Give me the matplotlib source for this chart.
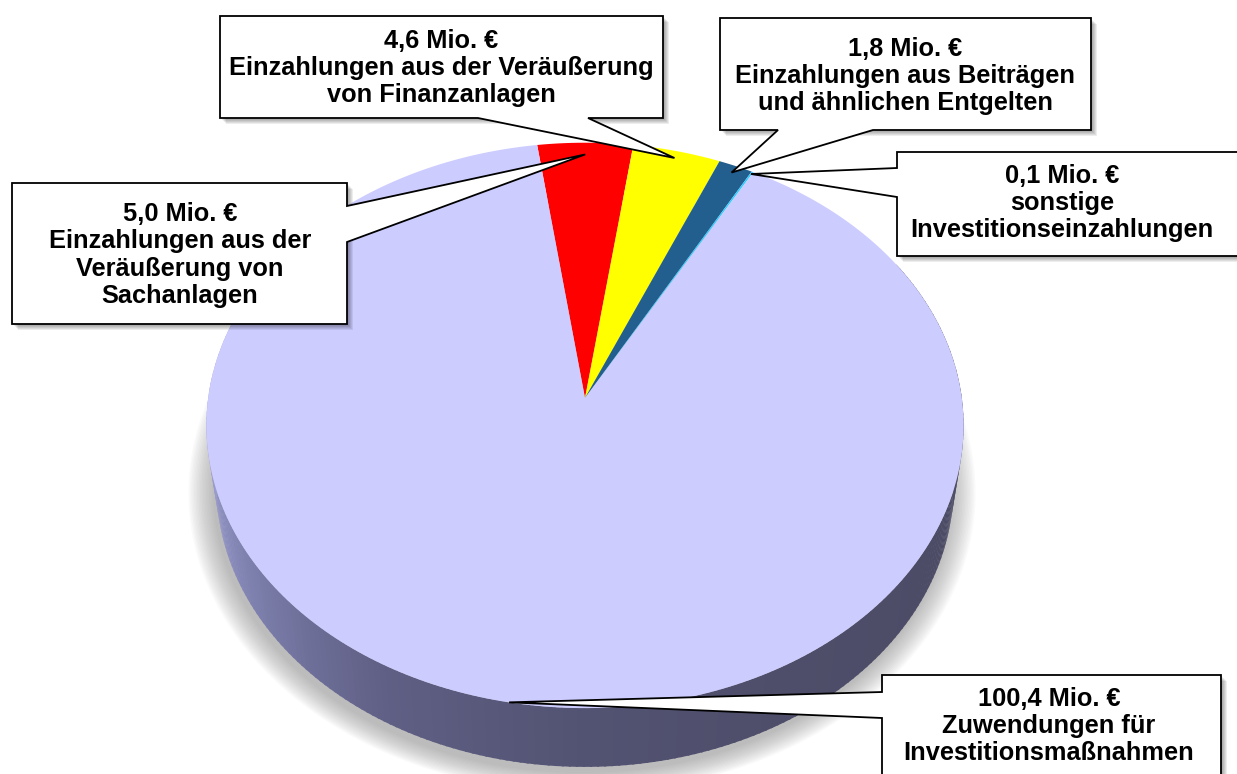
import numpy as np
import matplotlib
matplotlib.use("Agg")
import matplotlib.pyplot as plt
from matplotlib.patches import Polygon

# ---- data ----
labels = [
    "Einzahlungen aus der\nVeräußerung von\nSachanlagen",
    "Einzahlungen aus der Veräußerung\nvon Finanzanlagen",
    "Einzahlungen aus Beiträgen\nund ähnlichen Entgelten",
    "sonstige\nInvestitionseinzahlungen",
    "Zuwendungen für\nInvestitionsmaßnahmen",
]
values = [5.0, 4.6, 1.8, 0.1, 100.4]
value_text = ["5,0 Mio. €", "4,6 Mio. €", "1,8 Mio. €", "0,1 Mio. €", "100,4 Mio. €"]
colors = ["#FF0000", "#FFFF00", "#225E8E", "#33CCFF", "#CCCCFF"]

# ---- figure ----
W, H = 1237, 774
fig = plt.figure(figsize=(W / 100, H / 100), dpi=100)
ax = fig.add_axes([0, 0, 1, 1])
ax.set_xlim(0, W)
ax.set_ylim(H, 0)
ax.axis("off")

# ---- 3D projection of the pie ----
cx, cy = 585.0, 398.0
phi = np.radians(48)
s_, c_ = np.sin(phi), np.cos(phi)
D = 6.9
f = 2600.0
h = 0.25
start = -8.0  # degrees, clockwise from the far point


def proj(theta_deg, r=1.0, Z=0.0):
    t = np.radians(theta_deg)
    X = r * np.sin(t)
    Y = -r * np.cos(t)
    depth = D - (Y * c_ + Z * s_)
    sx = cx + f * X / depth
    up = f * (-Y * s_ + Z * c_) / depth
    return sx, cy - up


total = sum(values)
angles = [v / total * 360.0 for v in values]
bounds = [start]
for a in angles:
    bounds.append(bounds[-1] + a)

# shadow under the pie
th = np.linspace(0, 360, 361)
bx, by = proj(th, 1.0, -h)
bx = np.asarray(bx)
by = np.asarray(by)
mx, my = bx.mean(), by.mean()
for k in range(18):
    sc = 1.0 + 0.004 * k
    ax.add_patch(Polygon(np.column_stack([mx - 3 + (bx - mx) * sc, my + 6 + (by - my) * sc]),
                         closed=True, facecolor="#8a8a8a", edgecolor="none",
                         alpha=0.04, zorder=1))

# side of the pie
side_stops = [(90, (74, 74, 100)), (150, (78, 78, 106)), (180, (82, 82, 114)),
              (210, (96, 96, 134)), (240, (128, 130, 176)), (270, (165, 168, 222))]


def side_color(t):
    t = t % 360
    if t <= side_stops[0][0]:
        return np.array(side_stops[0][1]) / 255
    if t >= side_stops[-1][0]:
        return np.array(side_stops[-1][1]) / 255
    for (t0, c0), (t1, c1) in zip(side_stops[:-1], side_stops[1:]):
        if t0 <= t <= t1:
            w = (t - t0) / (t1 - t0)
            return (np.array(c0) * (1 - w) + np.array(c1) * w) / 255
    return np.array(side_stops[-1][1]) / 255


step = 1.0
for t in np.arange(60, 300, step):
    x0, y0 = proj(t, 1, 0)
    x1, y1 = proj(t + step + 0.3, 1, 0)
    x2, y2 = proj(t + step + 0.3, 1, -h)
    x3, y3 = proj(t, 1, -h)
    ax.add_patch(Polygon([(x0, y0), (x1, y1), (x2, y2), (x3, y3)], closed=True,
                         facecolor=side_color(t + step / 2), edgecolor="none", zorder=2))

# top surface slices
for i in range(len(values)):
    ts = np.linspace(bounds[i], bounds[i + 1], max(3, int(angles[i] * 2)))
    px, py = proj(ts, 1.0, 0.0)
    pts = [(cx, cy)] + list(zip(px, py))
    ax.add_patch(Polygon(pts, closed=True, facecolor=colors[i], edgecolor="none", zorder=3))

# ---- callout boxes ----
boxes = [
    dict(rect=(12, 183, 347, 324), base=[(347, 206), (347, 242)], side="right", tc=(180, 255), r=0.95),
    dict(rect=(220, 16, 663, 118), base=[(478, 118), (588, 118)], side="bottom", tc=(441, 68), r=0.97),
    dict(rect=(720, 18, 1091, 130), base=[(778, 130), (873, 130)], side="bottom", tc=(905, 76), r=0.97),
    dict(rect=(897, 152, 1250, 256), base=[(897, 168), (897, 197)], side="left", tc=(1062, 203), r=0.99),
    dict(rect=(882, 675, 1221, 790), base=[(882, 692), (882, 718)], side="left", tc=(1049, 726), r=1.0),
]

for i, b in enumerate(boxes):
    mid = (bounds[i] + bounds[i + 1]) / 2
    tx, ty = proj(mid, b["r"], 0.0)
    x0, y0, x1, y1 = b["rect"]
    (ax_, ay_), (bx_, by_) = b["base"]
    if b["side"] == "right":
        pts = [(x0, y0), (x1, y0), (ax_, ay_), (tx, ty), (bx_, by_), (x1, y1), (x0, y1)]
    elif b["side"] == "bottom":
        pts = [(x0, y0), (x1, y0), (x1, y1), (bx_, by_), (tx, ty), (ax_, ay_), (x0, y1)]
    else:
        pts = [(x0, y0), (x1, y0), (x1, y1), (x0, y1), (bx_, by_), (tx, ty), (ax_, ay_)]
    for k in range(5):
        off = 2 + k
        ax.add_patch(Polygon([(x0 + off, y0 + off), (x1 + off, y0 + off), (x1 + off, y1 + off),
                              (x0 + off, y1 + off)], closed=True, facecolor="#000000",
                             edgecolor="none", alpha=0.07, zorder=4))
    ax.add_patch(Polygon(pts, closed=True, facecolor="white", edgecolor="black",
                         linewidth=1.3, zorder=5, joinstyle="miter"))
    ax.text(b["tc"][0], b["tc"][1], value_text[i] + "\n" + labels[i], ha="center", va="center",
            fontsize=18.3, fontweight="bold", family=["Liberation Sans", "DejaVu Sans"],
            linespacing=1.18, zorder=6)

fig.savefig("out.png", dpi=100, facecolor="white")
